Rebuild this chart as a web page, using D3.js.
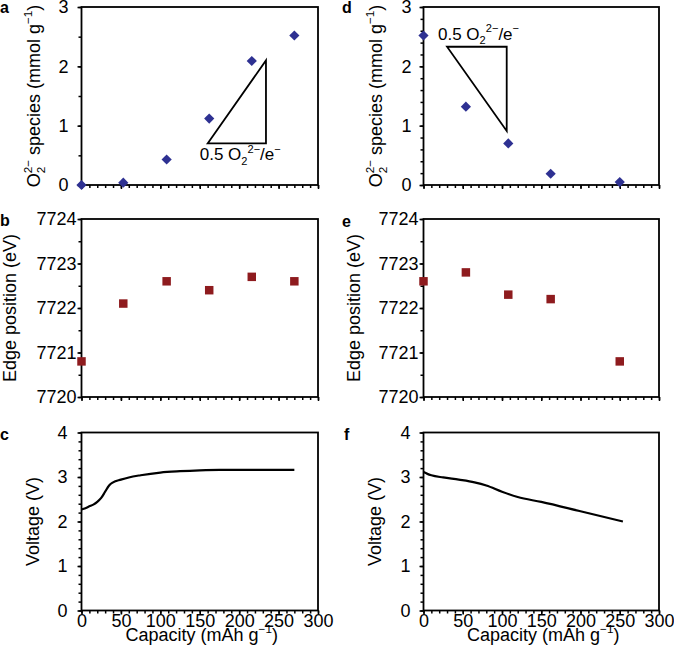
<!DOCTYPE html>
<html><head><meta charset="utf-8">
<script src="https://cdn.jsdelivr.net/npm/d3@7"></script>
<style>body{margin:0;background:#fff} svg{display:block} text{font-family:"Liberation Sans",Arial,sans-serif;fill:#000}</style>
</head><body><svg id="c" width="674" height="654"></svg>
<script>
// ---- data ----
const capTicks = [0, 50, 100, 150, 200, 250, 300];
const o2Ticks = [0, 1, 2, 3];
const edgeTicks = [7720, 7721, 7722, 7723, 7724];
const vTicks = [0, 1, 2, 3, 4];

const capA = [0, 53, 108, 162, 216, 270];
const o2A = [0.00, 0.04, 0.43, 1.12, 2.09, 2.52];
const edgeB = [7720.8, 7722.1, 7722.6, 7722.4, 7722.7, 7722.6];
const capC = [0, 5, 10, 15, 20, 25, 30, 35, 40, 50, 60, 75, 100, 125, 150, 175, 200, 270];
const vC = [2.27, 2.30, 2.34, 2.38, 2.44, 2.53, 2.67, 2.81, 2.88, 2.94, 2.99, 3.04, 3.10, 3.13, 3.15, 3.16, 3.16, 3.16];

const capD = [0, 54, 108, 162, 250];
const o2D = [2.52, 1.32, 0.70, 0.19, 0.05];
const edgeE = [7722.6, 7722.8, 7722.3, 7722.2, 7720.8];
const capF = [0, 5, 10, 25, 45, 65, 80, 100, 120, 150, 200, 254];
const vF = [3.11, 3.07, 3.04, 2.99, 2.94, 2.88, 2.81, 2.67, 2.55, 2.44, 2.23, 2.00];

const triA = [[160, 0.70], [234, 2.10], [234, 0.70]];
const triD = [[30, 2.33], [106, 2.33], [106, 0.91]];

// ---- drawing ----
const svg = d3.select("#c");
const FS = 18;
const FONT = '"Liberation Sans",Arial,sans-serif';
const navy = "#2E3192", red = "#8E1B1E";
const fmt = d3.format("d");

function rich(sel, parts, fs) {
  const small = fs * 0.65;
  let cur = 0;
  parts.forEach(p => {
    const off = p.sub ? 0.28 * fs : p.sup ? -0.42 * fs : 0;
    const ts = sel.append("tspan").text(p.t).attr("dy", off - cur);
    if (p.sub || p.sup) ts.attr("font-size", small);
    if (p.back) ts.attr("dx", -0.556 * small * p.back);
    cur = off;
  });
}

function panel(o) {
  const x = d3.scaleLinear().domain([0, 300]).range([o.x0, o.x1]);
  const y = d3.scaleLinear().domain(o.yDomain).range([o.y1, o.y0]);
  const g = svg.append("g");
  const yMinor = d3.range(o.yDomain[0], o.yDomain[1] + 1e-9, o.yMinorStep);
  g.append("g").attr("transform", `translate(${o.x0},0)`)
    .call(d3.axisLeft(y).tickValues(yMinor).tickSize(3).tickFormat(""))
    .call(s => s.select(".domain").remove())
    .call(s => s.selectAll("line").attr("stroke-width", 1.5));
  g.append("g").attr("transform", `translate(${o.x0},0)`)
    .call(d3.axisLeft(y).tickValues(o.yTicks).tickSize(4).tickPadding(o.labelGap - 4).tickFormat(fmt))
    .call(s => s.select(".domain").remove())
    .call(s => s.selectAll("line").attr("stroke-width", 1.5))
    .call(s => s.selectAll("text").attr("font-size", FS).attr("font-family", FONT).attr("fill", "#000"));
  const xMinor = d3.range(0, 300 + 1e-9, 10);
  g.append("g").attr("transform", `translate(0,${o.y1})`)
    .call(d3.axisBottom(x).tickValues(xMinor).tickSize(3).tickFormat(""))
    .call(s => s.select(".domain").remove())
    .call(s => s.selectAll("line").attr("stroke-width", 1.5));
  g.append("g").attr("transform", `translate(0,${o.y1})`)
    .call(d3.axisBottom(x).tickValues(capTicks).tickSize(4).tickPadding(0).tickFormat(o.xLabels ? fmt : ""))
    .call(s => s.select(".domain").remove())
    .call(s => s.selectAll("line").attr("stroke-width", 1.5))
    .call(s => s.selectAll("text").attr("font-size", FS).attr("font-family", FONT).attr("fill", "#000"));
  g.append("rect").attr("x", o.x0).attr("y", o.y0).attr("width", o.x1 - o.x0).attr("height", o.y1 - o.y0)
    .attr("fill", "none").attr("stroke", "#000").attr("stroke-width", 1.8);
  g.append("text").attr("x", o.letterX).attr("y", o.letterY).attr("font-size", 16).attr("font-weight", "bold").text(o.letter);
  const yl = g.append("text").attr("text-anchor", "middle").attr("font-size", FS)
    .attr("transform", `translate(${o.ylabelX},${(o.y0 + o.y1) / 2}) rotate(-90)`);
  rich(yl, o.ylabel, FS);
  if (o.xLabels) {
    const xl = g.append("text").attr("text-anchor", "middle").attr("font-size", FS)
      .attr("x", (o.x0 + o.x1) / 2 + 2).attr("y", o.y1 + 30);
    rich(xl, [{t: "Capacity (mAh g"}, {t: "\u22121", sup: true}, {t: ")"}], FS);
  }
  return {g, x, y};
}

const o2Label = [{t: "O"}, {t: "2", sub: true}, {t: "2\u2212", sup: true, back: 1}, {t: " species (mmol g"}, {t: "\u22121", sup: true}, {t: ")"}];
const edgeLabel = [{t: "Edge position (eV)"}];
const vLabel = [{t: "Voltage (V)"}];

const L = {x0: 81.5, x1: 318}, R = {x0: 423.5, x1: 659};
const rows = [[7, 185], [219, 397], [432.5, 610.5]];

function scatter(p, xs, ys, type, color) {
  const sym = d3.symbol().type(d3.symbolSquare).size(type === "diamond" ? 52 : 72);
  p.g.append("g").selectAll("path").data(xs.map((v, i) => [v, ys[i]])).join("path")
    .attr("d", sym)
    .attr("transform", d => `translate(${p.x(d[0])},${p.y(d[1])})` + (type === "diamond" ? " rotate(45)" : ""))
    .attr("fill", color);
}
function curve(p, xs, ys) {
  const line = d3.line().x(d => p.x(d[0])).y(d => p.y(d[1])).curve(d3.curveMonotoneX);
  p.g.append("path").attr("d", line(xs.map((v, i) => [v, ys[i]])))
    .attr("fill", "none").attr("stroke", "#000").attr("stroke-width", 2.2);
}
function triangle(p, pts) {
  p.g.append("path").attr("d", d3.line().x(d => p.x(d[0])).y(d => p.y(d[1])).curve(d3.curveLinearClosed)(pts))
    .attr("fill", "none").attr("stroke", "#000").attr("stroke-width", 1.8);
}
function slopeLabel(p, xv, yv, fs) {
  const t = p.g.append("text").attr("x", p.x(xv)).attr("y", p.y(yv)).attr("font-size", fs);
  rich(t, [{t: "0.5 O"}, {t: "2", sub: true}, {t: "2\u2212", sup: true}, {t: "/e"}, {t: "\u2212", sup: true}], fs);
}

const pa = panel({...L, y0: rows[0][0], y1: rows[0][1], yDomain: [0, 3], yTicks: o2Ticks, yMinorStep: 0.5, labelGap: 13,
  letter: "a", letterX: 0, letterY: 13, ylabel: o2Label, ylabelX: 40, xLabels: false});
triangle(pa, triA);
slopeLabel(pa, 150, 0.42, 17);
scatter(pa, capA, o2A, "diamond", navy);

const pb = panel({...L, y0: rows[1][0], y1: rows[1][1], yDomain: [7720, 7724], yTicks: edgeTicks, yMinorStep: 0.5, labelGap: 5,
  letter: "b", letterX: 0, letterY: 226, ylabel: edgeLabel, ylabelX: 16, xLabels: false});
scatter(pb, capA, edgeB, "square", red);

const pc = panel({...L, y0: rows[2][0], y1: rows[2][1], yDomain: [0, 4], yTicks: vTicks, yMinorStep: 0.2, labelGap: 14,
  letter: "c", letterX: 0, letterY: 440, ylabel: vLabel, ylabelX: 39, xLabels: true});
curve(pc, capC, vC);

const pd = panel({...R, y0: rows[0][0], y1: rows[0][1], yDomain: [0, 3], yTicks: o2Ticks, yMinorStep: 0.2, labelGap: 12,
  letter: "d", letterX: 342, letterY: 13, ylabel: o2Label, ylabelX: 382, xLabels: false});
triangle(pd, triD);
slopeLabel(pd, 18.5, 2.45, 17);
scatter(pd, capD, o2D, "diamond", navy);

const pe = panel({...R, y0: rows[1][0], y1: rows[1][1], yDomain: [7720, 7724], yTicks: edgeTicks, yMinorStep: 0.5, labelGap: 5,
  letter: "e", letterX: 342, letterY: 227, ylabel: edgeLabel, ylabelX: 360, xLabels: false});
scatter(pe, capD, edgeE, "square", red);

const pf = panel({...R, y0: rows[2][0], y1: rows[2][1], yDomain: [0, 4], yTicks: vTicks, yMinorStep: 0.2, labelGap: 13,
  letter: "f", letterX: 344, letterY: 440, ylabel: vLabel, ylabelX: 381, xLabels: true});
curve(pf, capF, vF);
</script></body></html>
